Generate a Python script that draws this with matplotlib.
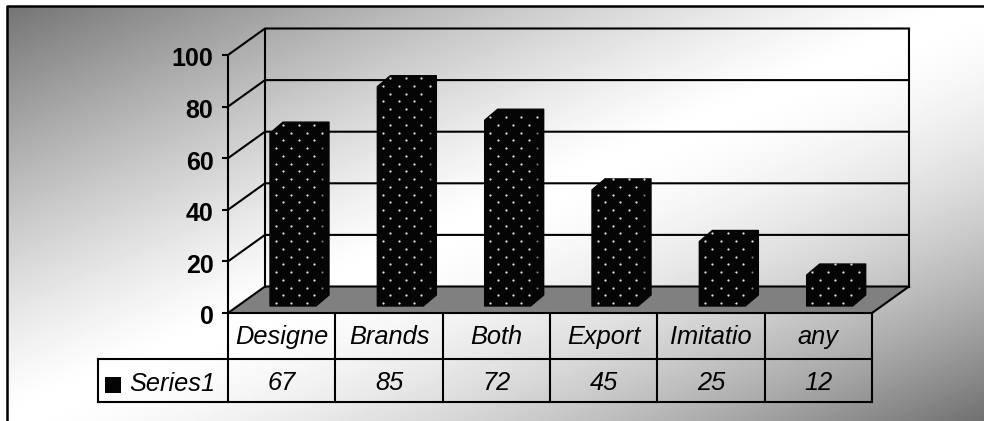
import numpy as np
import matplotlib.pyplot as plt
from matplotlib.path import Path
from matplotlib.transforms import ScaledTranslation

categories = ['Designe', 'Brands', 'Both', 'Export', 'Imitatio', 'any']
values = [67, 85, 72, 45, 25, 12]
series_name = 'Series1'
y_ticks = [0, 20, 40, 60, 80, 100]

plt.rcParams['font.family'] = ['Liberation Sans', 'DejaVu Sans']

W, H = 984, 421
fig = plt.figure(figsize=(W / 100, H / 100), dpi=100)

# diagonal background gradient, white along the middle and grey in two corners
bg = fig.add_axes([0, 0, 1, 1], zorder=0)
xx, yy = np.meshgrid(np.linspace(0, 1, W), np.linspace(0, 1, H))
t = xx + yy - 1
shade = 1 - 0.56 * np.where(t < 0, np.abs(t) ** 1.25, np.abs(t) ** 1.6)
bg.imshow(shade, cmap='gray', vmin=0, vmax=1, aspect='auto', extent=[0, W, H, 0])
bg.set_xlim(0, W)
bg.set_ylim(H, 0)
bg.axis('off')
bg.fill([0, W, W, 0], [0, 0, 6, 6], color='white', lw=0)
bg.fill([0, 7, 7, 0], [0, 0, H, H], color='white', lw=0)
bg.plot([7, 7, W], [H, 6, 6], color='black', lw=1.8)

# main axes sit on the front plane of the 3D box
left, right, y0, y100 = 228, 872, 313, 55
ax = fig.add_axes([left / W, 1 - y0 / H, (right - left) / W, (y0 - y100) / H], zorder=1)
ax.patch.set_alpha(0)
ax.set_xlim(0, len(categories))
ax.set_ylim(0, 100)
for side in ['top', 'right', 'bottom']:
    ax.spines[side].set_visible(False)
ax.spines['left'].set_linewidth(1.5)
ax.set_xticks([])
ax.set_yticks(y_ticks)
ax.tick_params(axis='y', length=4.5, width=1.5, pad=6, labelsize=18)
nudge = ScaledTranslation(0, -2 / 100, fig.dpi_scale_trans)
for lab in ax.get_yticklabels():
    lab.set_fontweight('bold')
    lab.set_transform(lab.get_transform() + nudge)

n = len(categories)
px_x = n / (right - left)       # data units per pixel
px_y = 100 / (y0 - y100)
dx, dy = 37 * px_x, 26.5 * px_y   # depth of the box
line = dict(color='black', lw=1.5, clip_on=False, solid_capstyle='projecting')

# floor and walls
ax.fill([0, n, n + dx, dx], [0, 0, dy, dy], color='#808080', lw=0, clip_on=False)
for tick in y_ticks:
    ax.plot([0, dx, n + dx], [tick, tick + dy, tick + dy], **line)
ax.plot([dx, dx], [dy, 100 + dy], **line)
ax.plot([n + dx, n + dx], [dy, 100 + dy], **line)
ax.plot([n, n + dx], [0, dy], **line)

# bars with a dotted texture
bar_off = 42 * px_x
bar_w = 46 * px_x
base = 7 * px_y
side_x, side_y = 13 * px_x, 11 * px_y
for i, v in enumerate(values):
    x0 = i + bar_off
    x1 = x0 + bar_w
    top = base + v
    outline = [(x0, base), (x1, base), (x1 + side_x, base + side_y), (x1 + side_x, top + side_y),
               (x0 + side_x, top + side_y), (x0, top)]
    xs, ys = zip(*outline)
    ax.fill(xs, ys, color='#050505', ec='#050505', lw=1, joinstyle='round', clip_on=False, zorder=3)

    rows = np.arange(base + 3 * px_y, top + side_y, 7.75 * px_y)
    px, py = [], []
    for r, ry in enumerate(rows):
        start = x0 + (13 if r % 2 else 5.7) * px_x
        for cx in np.arange(start, x1 + side_x, 15.5 * px_x):
            px.append(cx)
            py.append(ry)
    px, py = np.array(px), np.array(py)
    inside = Path(outline).contains_points(np.c_[px, py], radius=-2 * px_x)
    px, py = px[inside], py[inside]
    on_side = (px > x1) & (py < top)
    ax.scatter(px[~on_side], py[~on_side], s=2.6, color='#e0e0e0', lw=0, clip_on=False, zorder=4)
    ax.scatter(px[on_side], py[on_side], s=2.2, color='#808080', lw=0, clip_on=False, zorder=4)

# data table under the box
row1 = -46 * px_y
row2 = -89 * px_y
series_left = -130 * px_x
for c in range(n + 1):
    ax.plot([c, c], [0, row2], **line)
ax.plot([0, n], [0, 0], **line)
ax.plot([series_left, n], [row1, row1], **line)
ax.plot([series_left, n], [row2, row2], **line)
ax.plot([series_left, series_left], [row1, row2], **line)

text_opts = dict(ha='center', va='center', fontsize=18.3, style='italic', clip_on=False)
for i, (name, v) in enumerate(zip(categories, values)):
    ax.text(i + 0.5, -24 * px_y, name, **text_opts)
    ax.text(i + 0.5, -70 * px_y, str(v), **text_opts)
ax.scatter([-115 * px_x], [-72 * px_y], s=130, marker='s', color='#050505', lw=0, clip_on=False)
ax.text(-99 * px_x, -71 * px_y, series_name, ha='left', va='center', fontsize=18.3, style='italic')

fig.savefig('out.png', dpi=100)
